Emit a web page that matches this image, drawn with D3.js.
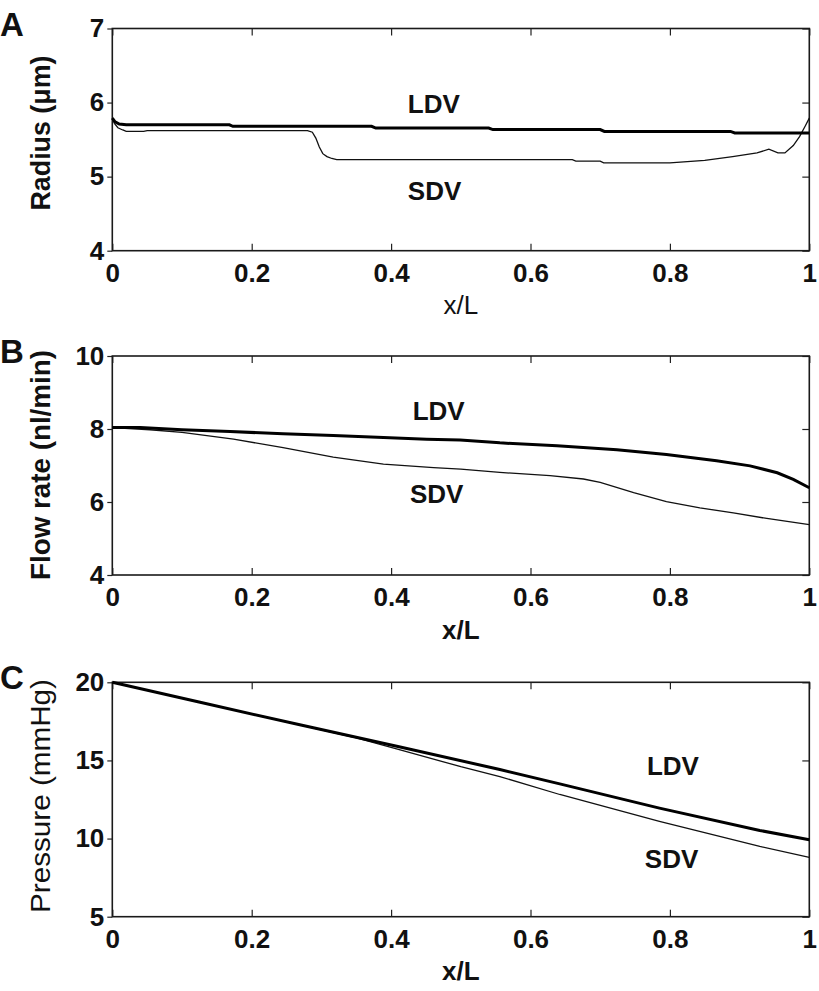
<!DOCTYPE html>
<html>
<head>
<meta charset="utf-8">
<script src="https://cdn.jsdelivr.net/npm/d3@7"></script>
<style>
  body { margin: 0; background: #fff; }
  svg text { font-family: "Liberation Sans", Arial, sans-serif; fill: #111; }
</style>
</head>
<body>
<div id="chart-area"></div>
<script>
// x ticks are shared by all three panels
const xTicks = [0, 0.2, 0.4, 0.6, 0.8, 1];

// Panel A - radius
const radiusTicks = [4, 5, 6, 7];
const radiusLdvX = [0, 0.004, 0.01, 0.02, 0.168, 0.173, 0.372, 0.378, 0.540, 0.546, 0.700, 0.706, 0.887, 0.893, 1.0];
const radiusLdvY = [5.79, 5.74, 5.71, 5.70, 5.70, 5.68, 5.68, 5.655, 5.655, 5.635, 5.635, 5.61, 5.61, 5.59, 5.59];
const radiusSdvX = [0, 0.003, 0.008, 0.015, 0.02, 0.045, 0.05, 0.28, 0.287, 0.292, 0.297, 0.302, 0.308, 0.315, 0.322,
                    0.66, 0.665, 0.70, 0.705, 0.80, 0.85, 0.89, 0.925, 0.942, 0.955, 0.965, 0.977, 0.986, 0.994, 1.0];
const radiusSdvY = [5.79, 5.72, 5.66, 5.63, 5.61, 5.61, 5.62, 5.62, 5.60, 5.52, 5.40, 5.31, 5.27, 5.245, 5.23,
                    5.23, 5.21, 5.21, 5.185, 5.185, 5.22, 5.27, 5.32, 5.37, 5.32, 5.32, 5.42, 5.54, 5.68, 5.79];

// Panel B - flow rate
const flowTicks = [4, 6, 8, 10];
const flowLdvX = [0, 0.04, 0.10, 0.169, 0.245, 0.317, 0.389, 0.451, 0.499, 0.556, 0.638, 0.724, 0.795, 0.867, 0.915, 0.954, 0.977, 1.0];
const flowLdvY = [8.04, 8.04, 7.98, 7.93, 7.87, 7.82, 7.77, 7.72, 7.70, 7.62, 7.54, 7.43, 7.30, 7.13, 6.99, 6.80, 6.62, 6.39];
const flowSdvX = [0, 0.054, 0.10, 0.174, 0.245, 0.317, 0.389, 0.461, 0.50, 0.556, 0.628, 0.676, 0.70, 0.748, 0.795, 0.843, 0.891, 0.939, 1.0];
const flowSdvY = [8.04, 7.98, 7.91, 7.72, 7.49, 7.23, 7.04, 6.94, 6.90, 6.81, 6.72, 6.63, 6.54, 6.26, 6.01, 5.84, 5.70, 5.55, 5.38];

// Panel C - pressure
const pressureTicks = [5, 10, 15, 20];
const pressureLdvX = [0, 0.126, 0.269, 0.413, 0.556, 0.642, 0.785, 0.929, 1.0];
const pressureLdvY = [20, 18.72, 17.28, 15.86, 14.42, 13.5, 11.95, 10.52, 9.92];
const pressureSdvX = [0, 0.126, 0.269, 0.345, 0.413, 0.50, 0.556, 0.642, 0.785, 0.929, 1.0];
const pressureSdvY = [20, 18.72, 17.28, 16.50, 15.68, 14.6, 13.97, 12.82, 11.1, 9.5, 8.79];

// curve labels: [x, y] in data units
const radiusLabels = [["LDV", 0.424, 5.86], ["SDV", 0.424, 4.685]];
const flowLabels = [["LDV", 0.431, 8.25], ["SDV", 0.427, 5.96]];
const pressureLabels = [["LDV", 0.767, 14.07], ["SDV", 0.764, 8.12]];

const zip = (xs, ys) => xs.map((x, i) => ({x: x, y: ys[i]}));

const panels = [
    {letter: "A", top: 28.5, bottom: 250.7, yTicks: radiusTicks, ylabel: "Radius (μm)", yBold: true, yLen: 155, yMid: 133,
     xBold: false, ldv: zip(radiusLdvX, radiusLdvY), sdv: zip(radiusSdvX, radiusSdvY), labels: radiusLabels},
    {letter: "B", top: 356, bottom: 575, yTicks: flowTicks, ylabel: "Flow rate (nl/min)", yBold: true, yLen: 230, yMid: 465,
     xBold: true, ldv: zip(flowLdvX, flowLdvY), sdv: zip(flowSdvX, flowSdvY), labels: flowLabels},
    {letter: "C", top: 682.3, bottom: 916.7, yTicks: pressureTicks, ylabel: "Pressure (mmHg)", yBold: false, yLen: 234, yMid: 796,
     xBold: true, ldv: zip(pressureLdvX, pressureLdvY), sdv: zip(pressureSdvX, pressureSdvY), labels: pressureLabels}
];

const left = 112.3, right = 809.3;

const svg = d3.select('#chart-area')
              .append('svg')
              .attr('width', 819)
              .attr('height', 991);

const x = d3.scaleLinear().domain([0, 1]).range([left, right]);

panels.forEach(p => {
    const y = d3.scaleLinear()
                .domain(d3.extent(p.yTicks))
                .range([p.bottom, p.top]);

    const g = svg.append('g');

    // bottom axis with inward ticks and labels
    const bottom = g.append('g')
        .attr('transform', `translate(0, ${p.bottom})`)
        .call(d3.axisBottom(x).tickValues(xTicks).tickSizeInner(-7).tickSizeOuter(0)
              .tickPadding(12.5).tickFormat(d => String(d)));
    // top axis (ticks only)
    const top = g.append('g')
        .attr('transform', `translate(0, ${p.top})`)
        .call(d3.axisTop(x).tickValues(xTicks).tickSizeInner(-7).tickSizeOuter(0).tickFormat(''));
    // left axis, ticks point outward
    const leftAx = g.append('g')
        .attr('transform', `translate(${left}, 0)`)
        .call(d3.axisLeft(y).tickValues(p.yTicks).tickSizeInner(5).tickSizeOuter(0)
              .tickPadding(3).tickFormat(d => String(d)));
    // right axis (ticks only)
    const rightAx = g.append('g')
        .attr('transform', `translate(${right}, 0)`)
        .call(d3.axisRight(y).tickValues(p.yTicks).tickSizeInner(-7).tickSizeOuter(0).tickFormat(''));

    [bottom, top, leftAx, rightAx].forEach(a => {
        a.select('.domain').remove();
        a.selectAll('.tick line').attr('stroke', '#222').attr('stroke-width', 1.2);
        a.selectAll('.tick text')
         .attr('font-size', 26)
         .attr('font-weight', 'bold')
         .attr('font-family', '"Liberation Sans", Arial, sans-serif')
         .attr('fill', '#111');
    });

    // frame
    g.append('rect')
     .attr('x', left)
     .attr('y', p.top)
     .attr('width', right - left)
     .attr('height', p.bottom - p.top)
     .attr('fill', 'none')
     .attr('stroke', '#1a1a1a')
     .attr('stroke-width', 1.6);

    const line = d3.line().x(d => x(d.x)).y(d => y(d.y));

    g.append('path')
     .datum(p.sdv)
     .attr('d', line)
     .attr('fill', 'none')
     .attr('stroke', '#111')
     .attr('stroke-width', 1.3);

    g.append('path')
     .datum(p.ldv)
     .attr('d', line)
     .attr('fill', 'none')
     .attr('stroke', '#000')
     .attr('stroke-width', 3);

    // curve names
    g.selectAll('text.curve')
     .data(p.labels)
     .enter()
     .append('text')
     .attr('class', 'curve')
     .attr('x', d => x(d[1]))
     .attr('y', d => y(d[2]))
     .attr('font-size', 26)
     .attr('font-weight', 'bold')
     .text(d => d[0]);

    // x label
    g.append('text')
     .attr('x', (left + right) / 2)
     .attr('y', p.bottom + 63.5)
     .attr('text-anchor', 'middle')
     .attr('font-size', 26)
     .attr('font-weight', p.xBold ? 'bold' : 'normal')
     .text('x/L');

    // y label
    g.append('text')
     .attr('transform', `translate(50, ${p.yMid}) rotate(-90)`)
     .attr('text-anchor', 'middle')
     .attr('font-size', 27)
     .attr('font-weight', p.yBold ? 'bold' : 'normal')
     .attr('textLength', p.yLen)
     .attr('lengthAdjust', 'spacingAndGlyphs')
     .text(p.ylabel);

    // panel letter
    g.append('text')
     .attr('x', 0)
     .attr('y', p.top + 7)
     .attr('font-size', 33)
     .attr('font-weight', 'bold')
     .text(p.letter);
});
</script>
</body>
</html>
